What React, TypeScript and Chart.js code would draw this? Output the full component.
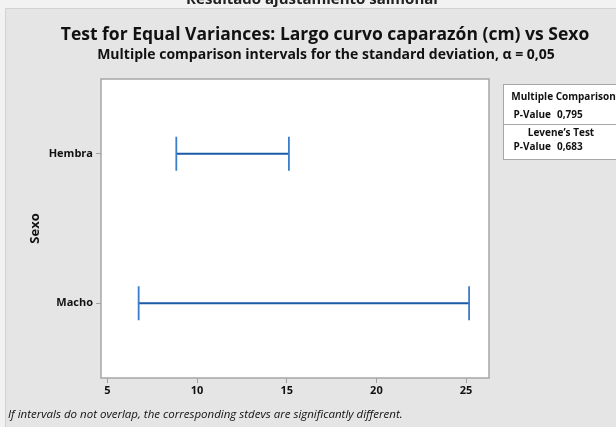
import { useEffect, useRef } from 'react';
import { Chart, registerables } from 'chart.js';

Chart.register(...registerables);

const categories = ['Hembra', 'Macho'];
const lowerBounds = [8.84, 6.74];
const upperBounds = [15.12, 25.17];
const xTickValues = [5, 10, 15, 20, 25];
const xMin = 4.64;
const xMax = 26.28;

const titleText = 'Test for Equal Variances: Largo curvo caparazón (cm) vs Sexo';
const subtitleText = 'Multiple comparison intervals for the standard deviation, α = 0,05';
const yAxisTitle = 'Sexo';
const footnoteText = 'If intervals do not overlap, the corresponding stdevs are significantly different.';
const headerText = 'Resultado ajustamiento salmonal';
const tableHeaders = ['Multiple Comparisons', 'Levene’s Test'];
const tablePLabel = 'P-Value';
const tablePValues = ['0,795', '0,683'];

const FONT = '"Open Sans", "Noto Sans", sans-serif';

const decorPlugin = {
  id: 'decor',
  beforeDraw(chart: any) {
    const { ctx, width, height, chartArea } = chart;
    ctx.save();
    ctx.fillStyle = '#f2f2f2';
    ctx.fillRect(0, 0, width, height);
    ctx.fillStyle = '#e5e5e5';
    ctx.fillRect(5, 8, width - 5, height - 8);
    ctx.strokeStyle = '#d2d2d2';
    ctx.lineWidth = 1;
    ctx.beginPath();
    ctx.moveTo(5.5, height);
    ctx.lineTo(5.5, 8.5);
    ctx.lineTo(width, 8.5);
    ctx.stroke();
    // clipped header of a previous panel
    ctx.beginPath();
    ctx.rect(0, 0, width, 7);
    ctx.clip();
    ctx.fillStyle = '#222';
    ctx.font = `bold 15px ${FONT}`;
    ctx.textAlign = 'center';
    ctx.textBaseline = 'alphabetic';
    ctx.fillText(headerText, 312, 4);
    ctx.restore();

    ctx.save();
    ctx.fillStyle = '#ffffff';
    ctx.fillRect(chartArea.left, chartArea.top, chartArea.right - chartArea.left, chartArea.bottom - chartArea.top);
    ctx.restore();
  },
  beforeDatasetsDraw(chart: any) {
    const { ctx, chartArea } = chart;
    ctx.save();
    ctx.strokeStyle = '#a6a6a6';
    ctx.lineWidth = 1.5;
    ctx.strokeRect(chartArea.left, chartArea.top, chartArea.right - chartArea.left, chartArea.bottom - chartArea.top);
    ctx.restore();
  },
  afterDraw(chart: any) {
    const { ctx } = chart;
    ctx.save();
    ctx.fillStyle = '#111';
    ctx.textAlign = 'center';
    ctx.textBaseline = 'middle';
    ctx.font = `bold 17.5px ${FONT}`;
    ctx.fillText(titleText, 325, 35);
    ctx.font = `bold 14px ${FONT}`;
    ctx.fillText(subtitleText, 326, 55);

    ctx.textAlign = 'left';
    ctx.font = `italic 11.5px ${FONT}`;
    ctx.fillText(footnoteText, 8, 415);

    // statistics table
    const bx = 503, by = 84, bw = 140, bh = 75;
    ctx.fillStyle = '#ffffff';
    ctx.fillRect(bx, by, bw, bh);
    ctx.strokeStyle = '#a6a6a6';
    ctx.lineWidth = 1;
    ctx.strokeRect(bx + 0.5, by + 0.5, bw, bh);
    ctx.beginPath();
    ctx.moveTo(bx, 124.5);
    ctx.lineTo(bx + bw, 124.5);
    ctx.stroke();
    ctx.fillStyle = '#111';
    ctx.font = `bold 10px ${FONT}`;
    ctx.textAlign = 'center';
    ctx.fillText(tableHeaders[0], 566, 97);
    ctx.fillText(tableHeaders[1], 561, 133);
    const rowYs = [115, 147];
    const cx = 553;
    tablePValues.forEach((v, i) => {
      ctx.textAlign = 'right';
      ctx.fillText(tablePLabel, cx - 2, rowYs[i]);
      ctx.textAlign = 'left';
      ctx.fillText(v, cx + 4, rowYs[i]);
    });
    ctx.restore();
  },
};

export default function App() {
  const canvasRef = useRef<HTMLCanvasElement | null>(null);

  useEffect(() => {
    document.body.style.margin = '0';
    const canvas = canvasRef.current;
    if (!canvas) return;
    const datasets = categories.map((cat, i) => ({
      label: cat,
      data: [
        { x: lowerBounds[i], y: cat },
        { x: upperBounds[i], y: cat },
      ],
      showLine: true,
      borderColor: '#1a5aa6',
      borderWidth: 2,
      pointStyle: 'line',
      pointRotation: 90,
      pointRadius: 17,
      pointHoverRadius: 17,
      pointBorderColor: '#3b7dc9',
      pointBorderWidth: 1.8,
      pointBackgroundColor: '#3b7dc9',
    }));

    const tickGrid = {
      display: true,
      drawOnChartArea: false,
      drawTicks: true,
      tickLength: 5,
      color: '#a0a0a0',
      lineWidth: 1,
    };

    const chart = new Chart(canvas, {
      type: 'scatter',
      data: { datasets: datasets as any },
      plugins: [decorPlugin],
      options: {
        responsive: false,
        animation: false,
        events: [],
        layout: { padding: { left: 20, right: 127, top: 79, bottom: 27 } },
        plugins: {
          legend: { display: false },
          tooltip: { enabled: false },
          title: { display: false },
        },
        scales: {
          x: {
            type: 'linear',
            min: xMin,
            max: xMax,
            grid: tickGrid,
            border: { display: false },
            afterBuildTicks: (scale: any) => {
              scale.ticks = xTickValues.map((v) => ({ value: v }));
            },
            afterFit: (scale: any) => {
              scale.height = 22;
            },
            ticks: {
              color: '#111',
              padding: 1,
              font: { family: FONT, size: 11, weight: 'bold' },
            },
          },
          y: {
            type: 'category',
            labels: categories,
            offset: true,
            position: 'left',
            grid: tickGrid,
            border: { display: false },
            afterFit: (scale: any) => {
              scale.width = 81;
            },
            ticks: {
              color: '#111',
              padding: 3,
              font: { family: FONT, size: 11, weight: 'bold' },
            },
            title: {
              display: true,
              text: yAxisTitle,
              color: '#111',
              font: { family: FONT, size: 13, weight: 'bold' },
              padding: { top: 7, bottom: 0 },
            },
          },
        },
      } as any,
    });
    return () => chart.destroy();
  }, []);

  return (
    <div style={{ position: 'absolute', left: 0, top: 0, width: 616, height: 427 }}>
      <canvas ref={canvasRef} width={616} height={427} style={{ display: 'block', width: 616, height: 427 }} />
    </div>
  );
}
